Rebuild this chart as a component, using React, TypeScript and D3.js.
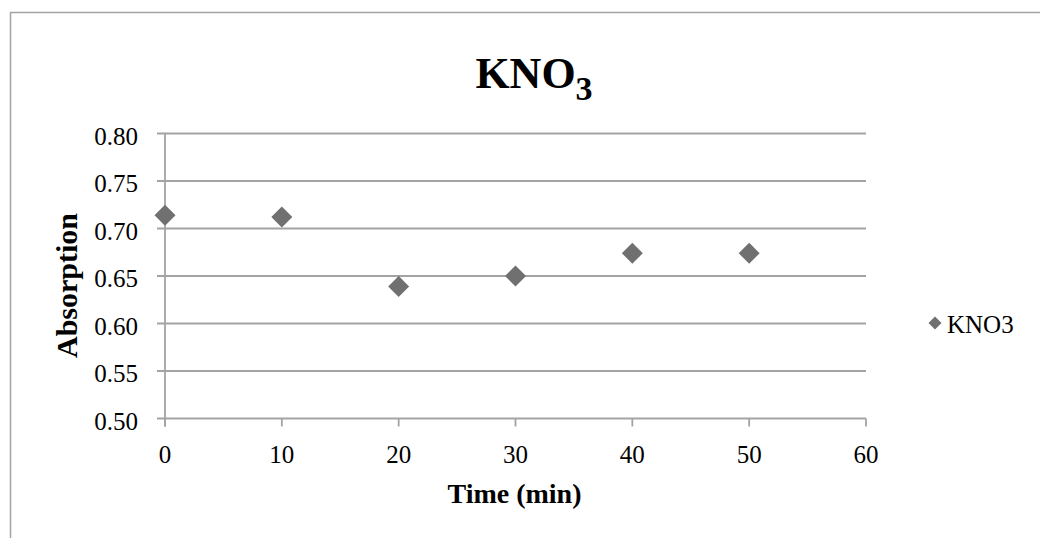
import React, { useEffect, useRef } from 'react';
import * as d3 from 'd3';

const times = [0, 10, 20, 30, 40, 50];
const absorption = [0.714, 0.712, 0.639, 0.65, 0.674, 0.674];
const xTicks = [0, 10, 20, 30, 40, 50, 60];
const yTicks = [0.5, 0.55, 0.6, 0.65, 0.7, 0.75, 0.8];
const seriesName = 'KNO3';

const App = () => {
  const ref = useRef<SVGSVGElement>(null);

  useEffect(() => {
    const svg = d3.select(ref.current);
    svg.selectAll('*').remove();

    const grid = '#a3a3a3';
    const marker = '#707070';
    const font = "'Liberation Serif', serif";

    const x = d3.scaleLinear().domain([0, 60]).range([165, 866]);
    const y = d3.scaleLinear().domain([0.5, 0.8]).range([418.5, 133.5]);

    // cadre du graphique
    svg.append('rect')
      .attr('x', 10.5).attr('y', 12.5)
      .attr('width', 1100).attr('height', 600)
      .attr('fill', 'none').attr('stroke', grid).attr('stroke-width', 1.5);

    // quadrillage horizontal + graduations y
    svg.append('g').selectAll('line')
      .data(yTicks)
      .enter().append('line')
      .attr('x1', 157).attr('x2', 866)
      .attr('y1', d => y(d)).attr('y2', d => y(d))
      .attr('stroke', grid).attr('stroke-width', 1.8);

    svg.append('g').selectAll('text')
      .data(yTicks)
      .enter().append('text')
      .attr('x', 138).attr('y', d => y(d) + 11)
      .attr('text-anchor', 'end')
      .attr('font-family', font).attr('font-size', 25)
      .text(d => d.toFixed(2));

    // axe y
    svg.append('line')
      .attr('x1', x(0)).attr('x2', x(0))
      .attr('y1', y(0.8)).attr('y2', y(0.5) + 8)
      .attr('stroke', grid).attr('stroke-width', 1.8);

    // graduations x
    svg.append('g').selectAll('line')
      .data(xTicks)
      .enter().append('line')
      .attr('x1', d => x(d)).attr('x2', d => x(d))
      .attr('y1', y(0.5)).attr('y2', y(0.5) + 8)
      .attr('stroke', grid).attr('stroke-width', 1.8);

    svg.append('g').selectAll('text')
      .data(xTicks)
      .enter().append('text')
      .attr('x', d => x(d)).attr('y', y(0.5) + 44.5)
      .attr('text-anchor', 'middle')
      .attr('font-family', font).attr('font-size', 25)
      .text(d => d);

    // points
    const diamond = d3.symbol().type(d3.symbolSquare).size(220);
    svg.append('g').selectAll('path')
      .data(times)
      .enter().append('path')
      .attr('d', diamond)
      .attr('transform', (d, i) => `translate(${x(d)},${y(absorption[i])}) rotate(45)`)
      .attr('fill', marker);

    // titre
    const title = svg.append('text')
      .attr('x', 534).attr('y', 88)
      .attr('text-anchor', 'middle')
      .attr('font-family', font).attr('font-weight', 'bold').attr('font-size', 44);
    title.append('tspan').text('KNO');
    title.append('tspan').attr('dy', 12).attr('font-size', 34).text('3');

    // titres des axes
    svg.append('text')
      .attr('transform', 'translate(77,285.5) rotate(-90)')
      .attr('text-anchor', 'middle')
      .attr('font-family', font).attr('font-weight', 'bold').attr('font-size', 30)
      .text('Absorption');

    svg.append('text')
      .attr('x', 514.5).attr('y', 503)
      .attr('text-anchor', 'middle')
      .attr('font-family', font).attr('font-weight', 'bold').attr('font-size', 28)
      .text('Time (min)');

    // légende
    svg.append('path')
      .attr('d', d3.symbol().type(d3.symbolSquare).size(85))
      .attr('transform', 'translate(935,323) rotate(45)')
      .attr('fill', marker);
    svg.append('text')
      .attr('x', 947).attr('y', 333)
      .attr('font-family', font).attr('font-size', 25)
      .text(seriesName);
  }, []);

  return (
    <svg
      ref={ref}
      width={1040}
      height={538}
      style={{ position: 'absolute', left: 0, top: 0, background: '#fff' }}
    />
  );
};

export default App;
